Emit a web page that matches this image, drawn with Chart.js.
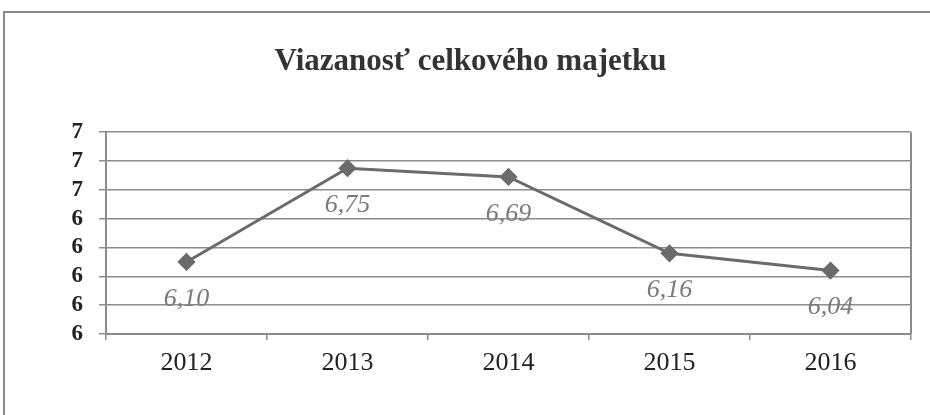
<!DOCTYPE html>
<html>
<head>
<meta charset="utf-8">
<script src="https://cdn.jsdelivr.net/npm/chart.js@4"></script>
<style>
  html, body { margin: 0; padding: 0; background: #fff; }
  #frame {
    position: absolute; left: 3px; top: 11px; width: 940px; height: 420px;
    border-left: 2px solid #8a8a8a; border-top: 2px solid #8a8a8a;
  }
  #wrap { position: absolute; left: 0; top: 0; width: 930px; height: 415px; }
</style>
</head>
<body>
<div id="frame"></div>
<div id="wrap"><canvas id="myChart" width="930" height="415"></canvas></div>
<script>
"use strict";

// data
let years = ['2012', '2013', '2014', '2015', '2016'];
let viazanost = [6.10, 6.75, 6.69, 6.16, 6.04];
let valueLabels = ['6,10', '6,75', '6,69', '6,16', '6,04'];

let gray = '#6b6b6b';
let gridGray = '#8c8c8c';

var ctx = document.getElementById('myChart').getContext('2d');

// draws the value under each point, and the right edge of the plot
let pointLabels = {
  id: 'pointLabels',
  afterDatasetsDraw(chart) {
    let c = chart.ctx;
    let meta = chart.getDatasetMeta(0);
    c.save();
    c.font = 'italic 26px "Liberation Serif"';
    c.fillStyle = '#7a7a7a';
    c.textAlign = 'center';
    c.textBaseline = 'middle';
    meta.data.forEach(function (pt, i) {
      c.fillText(valueLabels[i], pt.x, pt.y + 37);
    });
    c.restore();
  },
  beforeDatasetsDraw(chart) {
    let a = chart.chartArea;
    let c = chart.ctx;
    c.save();
    c.strokeStyle = gridGray;
    c.lineWidth = 2;
    c.beginPath();
    c.moveTo(a.right, a.top);
    c.lineTo(a.right, a.bottom);
    c.stroke();
    c.restore();
  }
};

var chart = new Chart(ctx, {
  type: 'line',
  data: {
    labels: years,
    datasets: [{
      data: viazanost,
      borderColor: gray,
      backgroundColor: gray,
      borderWidth: 3,
      pointStyle: 'rectRot',
      pointRadius: 7,
      pointBackgroundColor: gray,
      pointBorderColor: gray,
      tension: 0
    }]
  },
  options: {
    responsive: false,
    animation: false,
    layout: { padding: { left: 30, right: 19, top: 0, bottom: 0 } },
    plugins: {
      legend: { display: false },
      tooltip: { enabled: false },
      title: {
        display: true,
        text: 'Viazanosť celkového majetku',
        color: '#333',
        font: { family: '"Liberation Serif"', size: 31, weight: 'bold' },
        padding: { top: 43, bottom: 52 }
      }
    },
    scales: {
      x: {
        offset: true,
        grid: { offset: true, drawOnChartArea: false, tickLength: 6, color: gridGray, lineWidth: 1.5 },
        border: { display: true, color: gridGray, width: 2 },
        ticks: { color: '#222', padding: 8, font: { family: '"Liberation Serif"', size: 26 } },
        afterFit: function (scale) { scale.height = 81; }
      },
      y: {
        min: 5.6,
        max: 7.0,
        ticks: {
          count: 8,
          autoSkip: false,
          color: '#222',
          padding: 16,
          font: { family: '"Liberation Serif"', size: 23, weight: 'bold' },
          callback: function (v) { return Math.round(v); }
        },
        grid: { color: gridGray, lineWidth: 1.5, tickLength: 7 },
        border: { display: true, color: gridGray, width: 2 },
        afterFit: function (scale) { scale.width = 76; }
      }
    }
  },
  plugins: [pointLabels]
});
</script>
</body>
</html>
